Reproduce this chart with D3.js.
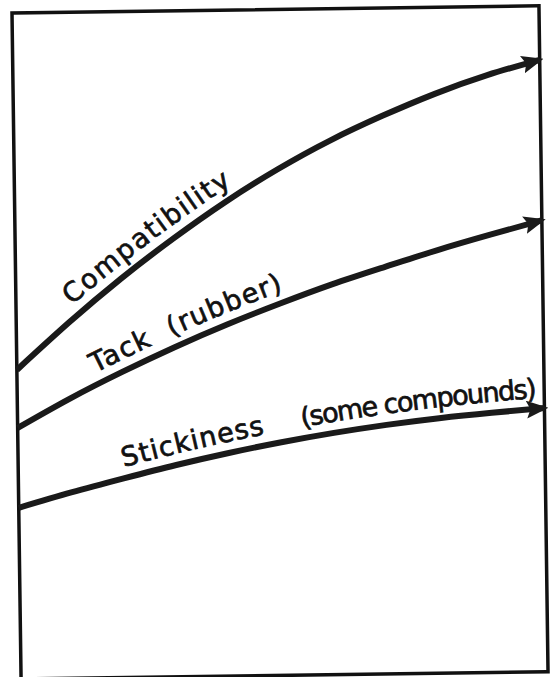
<!DOCTYPE html>
<html>
<head>
<meta charset="utf-8">
<script src="https://cdn.jsdelivr.net/npm/d3@7"></script>
<style>
  body { margin: 0; background: #fff; }
  svg { display: block; }
  .label { font-family: "DejaVu Sans", sans-serif; font-size: 27px; fill: #111; stroke: #111; stroke-width: 0.7px; }
</style>
</head>
<body>
<svg width="555" height="677"></svg>
<script>
// values (arbitrary 0-100 units, no axes in the original)
var xVals = [0, 10, 20, 30, 40, 50, 60, 70, 80, 90, 100];
var compatibility = [46.4, 53.4, 59.9, 65.8, 71.2, 76.0, 80.2, 83.8, 87.0, 89.7, 91.9];
var tack = [37.7, 42.0, 45.9, 49.5, 52.8, 55.8, 58.6, 61.1, 63.5, 65.7, 67.8];
var stickiness = [25.7, 27.9, 29.9, 31.8, 33.5, 35.0, 36.3, 37.4, 38.3, 39.0, 39.6];

var seriesNames = ['compat', 'tack', 'stick'];
var seriesVals = [compatibility, tack, stickiness];

// label pieces: series, text, offset along curve, letter spacing
var labelText = ['Compatibility', 'Tack  (rubber)', 'Stickiness', '(some compounds)'];
var labelSeries = ['compat', 'tack', 'stick', 'stick'];
var labelOffset = [84, 94, 112, 294];
var labelSpacing = [1.6, 1.3, 1.0, -1.6];

var W = 527, H = 666;

var svg = d3.select('svg');

var g = svg.append('g')
    .attr('transform', 'translate(12,13) rotate(-0.78)');

var x = d3.scaleLinear().domain([0, 100]).range([0, W]);
var y = d3.scaleLinear().domain([0, 100]).range([H, 0]);

svg.append('defs').append('marker')
    .attr('id', 'arrow')
    .attr('viewBox', '0 -9 22 18')
    .attr('refX', 18)
    .attr('refY', 0)
    .attr('markerWidth', 22)
    .attr('markerHeight', 18)
    .attr('markerUnits', 'userSpaceOnUse')
    .attr('orient', 'auto')
  .append('path')
    .attr('d', 'M0,-9L22,0L0,9L4,0Z')
    .attr('fill', '#1a1a1a');

// frame
g.append('rect')
    .attr('x', x(0))
    .attr('y', y(100))
    .attr('width', x(100) - x(0))
    .attr('height', y(0) - y(100))
    .attr('fill', 'none')
    .attr('stroke', '#111')
    .attr('stroke-width', 3.5);

var line = d3.line()
    .x(function(d) { return x(d[0]); })
    .y(function(d) { return y(d[1]); })
    .curve(d3.curveNatural);

seriesNames.forEach(function(name, i) {
  var pts = xVals.map(function(v, j) { return [v, seriesVals[i][j]]; });
  g.append('path')
      .attr('id', 'curve-' + name)
      .attr('d', line(pts))
      .attr('fill', 'none')
      .attr('stroke', '#1a1a1a')
      .attr('stroke-width', 6)
      .attr('marker-end', 'url(#arrow)');
});

labelText.forEach(function(t, i) {
  g.append('text')
      .attr('class', 'label')
      .attr('dy', -11)
      .style('letter-spacing', labelSpacing[i] + 'px')
      .style('white-space', 'pre')
    .append('textPath')
      .attr('href', '#curve-' + labelSeries[i])
      .attr('startOffset', labelOffset[i])
      .text(t);
});
</script>
</body>
</html>
